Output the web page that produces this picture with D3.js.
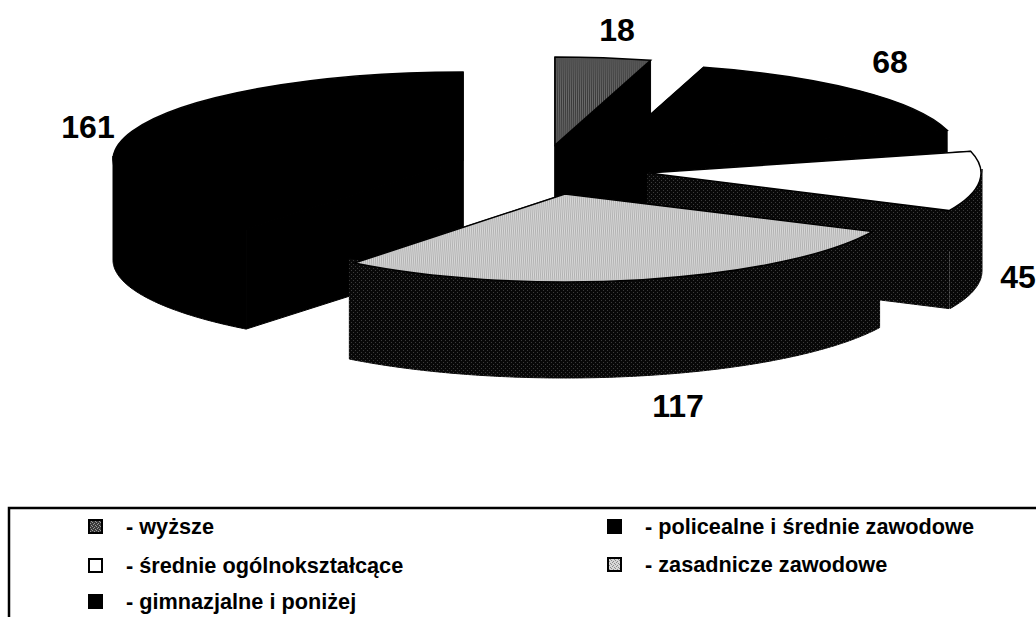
<!DOCTYPE html>
<html>
<head>
<meta charset="utf-8">
<script src="https://cdn.jsdelivr.net/npm/d3@7"></script>
<style>
    html, body { margin: 0; padding: 0; background: #fff; overflow: hidden; }
    text { font-family: "Liberation Sans", Arial, sans-serif; font-weight: bold; fill: #000; }
</style>
</head>
<body>
<script>
// values, clockwise from 12 o'clock
var categories = ["wyższe", "policealne i średnie zawodowe", "średnie ogólnokształcące", "zasadnicze zawodowe", "gimnazjalne i poniżej"];
var values = [18, 68, 45, 117, 161];
var legendLabels = ["- wyższe", "- policealne i średnie zawodowe", "- średnie ogólnokształcące", "- zasadnicze zawodowe", "- gimnazjalne i poniżej"];

var w = 1036;
var h = 617;
var ry = 88;

// exploded layout: where each wedge's apex sits, and its radii
var apexX = [555, 608, 648, 565, 463];
var apexY = [145, 152, 173, 194, 160];
var topRx = [350, 350, 333, 340, 350];
var wallRx = [350, 350, 334, 348, 350];
var depths = [100, 100, 98, 96, 100];

var topFill = ["url(#dark)", "#000", "#fff", "url(#light)", "#000"];
var sideFill = ["#000", "#000", "url(#side)", "url(#side)", "#000"];

var labelX = [617, 890, 1018, 678, 88];
var labelY = [41, 73, 288, 417, 138];
var legendX = [88, 607, 88, 607, 88];
var legendY = [534, 534, 573, 572, 609];

var svg = d3.select("body")
            .append("svg")
            .attr("width", w)
            .attr("height", h);

// scanned halftone look
var defs = svg.append("defs");
function stipple(id, bg, dot, dots){
    var p = defs.append("pattern")
                .attr("id", id)
                .attr("width", 4)
                .attr("height", 4)
                .attr("patternUnits", "userSpaceOnUse");
    p.append("rect").attr("width", 4).attr("height", 4).attr("fill", bg);
    p.selectAll("rect.dot")
     .data(dots)
     .enter()
     .append("rect")
     .attr("class", "dot")
     .attr("x", function(d){ return d[0]; })
     .attr("y", function(d){ return d[1]; })
     .attr("width", 1)
     .attr("height", 1)
     .attr("fill", dot);
}
stipple("dark", "#3a3a3a", "#9a9a9a", [[0,0],[2,1],[1,2],[3,3]]);
stipple("light", "#d8d8d8", "#8c8c8c", [[0,0],[2,1],[1,2],[3,3]]);
stipple("side", "#080808", "#3c3c3c", [[1,0],[3,2]]);

var pie = d3.pie().sort(null);
var slices = pie(values);

var arc = d3.arc().innerRadius(0);

// angle is clockwise from the top, same as d3.arc
function rimX(i, a, rx){ return apexX[i] + rx * Math.sin(a); }
function rimY(i, a){ return apexY[i] - ry * Math.cos(a); }

// draw back to front so the nearer wedges cover the others
var order = [4, 0, 1, 2, 3];

order.forEach(function(i){
    var d = slices[i];
    var g = svg.append("g").attr("class", "wedge");
    var drop = depths[i];

    // flat cut faces
    [d.startAngle, d.endAngle].forEach(function(a){
        var rx = topRx[i];
        var face = [
            [apexX[i], apexY[i]],
            [rimX(i, a, rx), rimY(i, a)],
            [rimX(i, a, rx), rimY(i, a) + drop],
            [apexX[i], apexY[i] + drop]
        ];
        g.append("path")
         .attr("d", d3.line()(face) + "Z")
         .attr("fill", sideFill[i])
         .attr("stroke", sideFill[i])
         .attr("stroke-width", 1);
    });

    // outer wall, front half only
    var a0 = Math.max(d.startAngle, Math.PI / 2);
    var a1 = Math.min(d.endAngle, Math.PI * 3 / 2);
    if(a1 > a0){
        var steps = d3.range(a0, a1, 0.01).concat([a1]);
        var wall = d3.area()
                     .x(function(a){ return rimX(i, a, wallRx[i]); })
                     .y0(function(a){ return rimY(i, a) - 4; })
                     .y1(function(a){ return rimY(i, a) + drop; });
        g.append("path")
         .attr("d", wall(steps))
         .attr("fill", sideFill[i])
         .attr("stroke", sideFill[i])
         .attr("stroke-width", 1);
    }

    // top surface: a d3 arc squashed into an ellipse
    g.append("path")
     .attr("transform", "translate(" + apexX[i] + "," + apexY[i] + ") scale(1," + (ry / topRx[i]) + ")")
     .attr("d", arc.outerRadius(topRx[i])(d))
     .attr("fill", topFill[i])
     .attr("stroke", "#000")
     .attr("stroke-width", 1.5)
     .attr("vector-effect", "non-scaling-stroke");
});

// value labels
svg.selectAll("text.value")
   .data(values)
   .enter()
   .append("text")
   .attr("class", "value")
   .attr("x", function(d, i){ return labelX[i]; })
   .attr("y", function(d, i){ return labelY[i]; })
   .attr("text-anchor", "middle")
   .style("font-size", "32px")
   .text(function(d){ return d; });

// legend frame runs off the page at the right and bottom
svg.append("path")
   .attr("d", d3.line()([[9, h], [9, 508], [w, 508]]))
   .attr("fill", "none")
   .attr("stroke", "#000")
   .attr("stroke-width", 2.5);

var legend = svg.selectAll("g.legend")
                .data(categories)
                .enter()
                .append("g")
                .attr("class", "legend")
                .attr("transform", function(d, i){ return "translate(" + legendX[i] + "," + legendY[i] + ")"; });

legend.append("rect")
      .attr("x", 1)
      .attr("y", -14)
      .attr("width", 13)
      .attr("height", 13)
      .attr("fill", function(d, i){ return topFill[i]; })
      .attr("stroke", "#000")
      .attr("stroke-width", 2);

legend.append("text")
      .attr("x", 38)
      .style("font-size", "21.7px")
      .text(function(d, i){ return legendLabels[i]; });
</script>
</body>
</html>
